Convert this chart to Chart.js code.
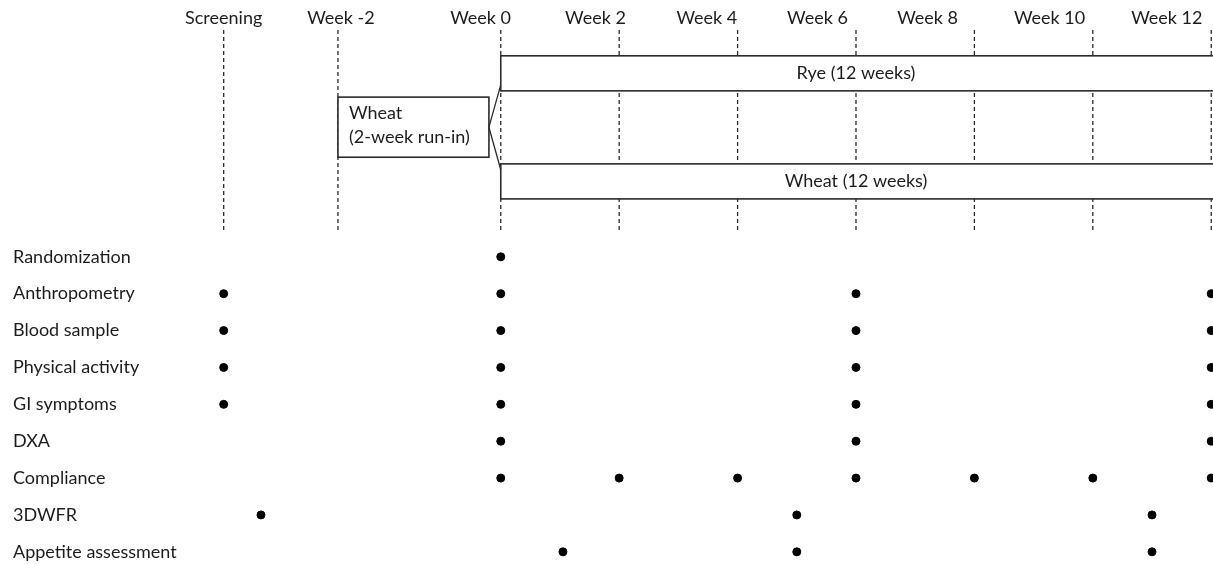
<!DOCTYPE html>
<html>
<head>
<meta charset="utf-8">
<script src="https://cdn.jsdelivr.net/npm/chart.js@4.4.1/dist/chart.umd.min.js"></script>
<style>
  html, body { margin: 0; padding: 0; background: #fff; }
  #wrap { width: 1213px; height: 564px; }
</style>
</head>
<body>
<div id="wrap"><canvas id="studyChart" width="1213" height="564"></canvas></div>
<script>
// =============================
// DATA (x in weeks, rows top to bottom)
// =============================
const visitLabels = ["Screening", "Week -2", "Week 0", "Week 2", "Week 4", "Week 6", "Week 8", "Week 10", "Week 12"];
const visitWeeks = [-4.68, -2.75, 0, 2, 4, 6, 8, 10, 12];
const visitLabelWeeks = [-4.68, -2.70, -0.34, 1.6, 3.48, 5.35, 7.21, 9.27, 11.25];

const rowLabels = [
  "Randomization", "Anthropometry", "Blood sample", "Physical activity",
  "GI symptoms", "DXA", "Compliance", "3DWFR", "Appetite assessment"
];
const randomization = [0];
const anthropometry = [-4.68, 0, 6, 12];
const bloodSample = [-4.68, 0, 6, 12];
const physicalActivity = [-4.68, 0, 6, 12];
const giSymptoms = [-4.68, 0, 6, 12];
const dxa = [0, 6, 12];
const compliance = [0, 2, 4, 6, 8, 10, 12];
const wfr3d = [-4.05, 5, 11];
const appetite = [1.05, 5, 11];
const schedule = [randomization, anthropometry, bloodSample, physicalActivity, giSymptoms, dxa, compliance, wfr3d, appetite];

// periods: run-in then the two arms
const runInText = ["Wheat", "(2-week run-in)"];
const runInWeeks = [-2.75, -0.2];
const armLabels = ["Rye (12 weeks)", "Wheat (12 weeks)"];
const armWeeks = [0, 12.6];

// =============================
// layout helpers (y units: one row = 1)
// =============================
const Y_MIN = -6.15, Y_MAX = 8.33;
const X_MIN = -5.08, X_MAX = 12.03;
const lineTop = -6.15, lineBottom = -0.68;
const armLanes = [[-5.45, -4.50], [-2.52, -1.57]];
const runInLane = [-4.33, -2.70];
const joinY = [-4.66, -2.36];

const INK = "#1c1c1c";
const LINE = "#2b2b2b";

const dots = [];
schedule.forEach((weeks, row) => weeks.forEach((w) => dots.push({ x: w, y: row })));

const dashed = [];
visitWeeks.forEach((w) => {
  dashed.push({ x: w, y: lineTop }, { x: w, y: lineBottom }, { x: w, y: null });
});

const runInMid = (runInLane[0] + runInLane[1]) / 2;
const joins = [
  { x: 0, y: joinY[0] }, { x: runInWeeks[1], y: runInMid }, { x: 0, y: joinY[1] }
];

// boxes + texts drawn on top of the dashed lines
const boxPlugin = {
  id: "boxes",
  afterDatasetsDraw(chart) {
    const { ctx, scales: { x, y } } = chart;
    ctx.save();
    ctx.lineWidth = 1.6;
    ctx.strokeStyle = LINE;
    const box = (x0, x1, y0, y1) => {
      const l = x.getPixelForValue(x0), r = x.getPixelForValue(x1);
      const t = y.getPixelForValue(y0), b = y.getPixelForValue(y1);
      ctx.fillStyle = "#fff";
      ctx.fillRect(l, t, r - l, b - t);
      ctx.strokeRect(l, t, r - l, b - t);
      return { l, r, t, b };
    };
    ctx.font = "18px Lato";
    ctx.textBaseline = "middle";

    armLabels.forEach((txt, i) => {
      const bx = box(armWeeks[0], armWeeks[1], armLanes[i][0], armLanes[i][1]);
      ctx.fillStyle = INK;
      ctx.textAlign = "center";
      ctx.fillText(txt, x.getPixelForValue(6), (bx.t + bx.b) / 2);
    });

    const rb = box(runInWeeks[0], runInWeeks[1], runInLane[0], runInLane[1]);
    ctx.fillStyle = INK;
    ctx.textAlign = "left";
    ctx.fillText(runInText[0], rb.l + 11, rb.t + 16);
    ctx.fillText(runInText[1], rb.l + 11, rb.t + 40);

    // connector lines from run-in to both arms
    ctx.beginPath();
    joins.forEach((p, i) => {
      const px = x.getPixelForValue(p.x), py = y.getPixelForValue(p.y);
      if (i === 0) ctx.moveTo(px, py); else ctx.lineTo(px, py);
    });
    ctx.lineWidth = 1.3;
    ctx.stroke();
    ctx.restore();
  },
};

Chart.defaults.font.family = "Lato";
Chart.defaults.font.size = 18;
Chart.defaults.color = INK;

new Chart(document.getElementById("studyChart"), {
  type: "scatter",
  data: {
    datasets: [
      {
        data: dots,
        backgroundColor: "#000",
        borderColor: "#000",
        pointRadius: 4,
        pointHoverRadius: 4,
        clip: false,
      },
      {
        data: dashed,
        showLine: true,
        spanGaps: false,
        borderColor: LINE,
        borderWidth: 1.3,
        borderDash: [4, 3],
        pointRadius: 0,
        pointHoverRadius: 0,
      },
    ],
  },
  plugins: [boxPlugin],
  options: {
    responsive: false,
    animation: false,
    events: [],
    layout: { autoPadding: false, padding: { left: 13, right: 0, top: 0, bottom: 0 } },
    plugins: { legend: { display: false }, tooltip: { enabled: false } },
    scales: {
      x: {
        type: "linear",
        position: "top",
        min: X_MIN,
        max: X_MAX,
        grid: { display: false, drawTicks: false },
        border: { display: false },
        afterBuildTicks: (s) => { s.ticks = visitLabelWeeks.map((v) => ({ value: v })); },
        afterFit: (s) => { s.height = 30; s.paddingLeft = 0; s.paddingRight = 0; },
        ticks: {
          autoSkip: false,
          maxRotation: 0,
          padding: 1,
          color: INK,
          callback: (v, i) => visitLabels[i],
        },
      },
      y: {
        type: "linear",
        reverse: true,
        min: Y_MIN,
        max: Y_MAX,
        grid: { display: false, drawTicks: false },
        border: { display: false },
        afterBuildTicks: (s) => { s.ticks = rowLabels.map((_, i) => ({ value: i })); },
        afterFit: (s) => { s.width = 187; s.paddingTop = 0; s.paddingBottom = 0; },
        ticks: {
          autoSkip: false,
          crossAlign: "far",
          color: INK,
          callback: (v, i) => rowLabels[i],
        },
      },
    },
  },
});
</script>
</body>
</html>
